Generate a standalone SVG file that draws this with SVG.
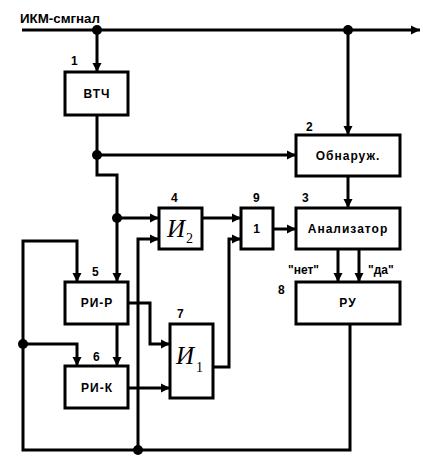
<svg xmlns="http://www.w3.org/2000/svg" width="423" height="464" viewBox="0 0 423 464">
<style>
.box{fill:#fff;stroke:#000;stroke-width:3}
.ln{fill:none;stroke:#000;stroke-width:3}
.t{font-family:"Liberation Sans",Arial,sans-serif;font-weight:bold;font-size:12px;letter-spacing:1px;text-anchor:middle}
.n{font-family:"Liberation Sans",Arial,sans-serif;font-weight:bold;font-size:12px}
.i{font-family:"Liberation Serif","Times New Roman",serif;font-style:italic;font-size:25px}
.s{font-family:"Liberation Serif","Times New Roman",serif;font-size:14px}
</style>
<defs>
<marker id="a" markerUnits="userSpaceOnUse" markerWidth="12" markerHeight="12" viewBox="0 0 12 12" refX="10" refY="6" orient="auto">
<path d="M1,1.5 L10,6 L1,10.5 Z" fill="#000"/>
</marker>
</defs>
<rect width="423" height="464" fill="#fff"/>
<g id="connectors">
<path class="ln" d="M22,30 H420" marker-end="url(#a)"/>
<path class="ln" d="M97,30 V72" marker-end="url(#a)"/>
<path class="ln" d="M348,30 V135" marker-end="url(#a)"/>
<path class="ln" d="M97,115 V155 H296" marker-end="url(#a)"/>
<path class="ln" d="M97,155 V175 H117 V282" marker-end="url(#a)"/>
<path class="ln" d="M117,218 H159" marker-end="url(#a)"/>
<path class="ln" d="M138,450 V239 H159" marker-end="url(#a)"/>
<path class="ln" d="M202,218 H241" marker-end="url(#a)"/>
<path class="ln" d="M273,229 H296" marker-end="url(#a)"/>
<path class="ln" d="M348,176 V208" marker-end="url(#a)"/>
<path class="ln" d="M338,249 V282" marker-end="url(#a)"/>
<path class="ln" d="M359,249 V282" marker-end="url(#a)"/>
<path class="ln" d="M350,324 V450 H23 V241 H77 V282" marker-end="url(#a)"/>
<path class="ln" d="M23,344 H77 V366" marker-end="url(#a)"/>
<path class="ln" d="M128,303 H150 V344 H170" marker-end="url(#a)"/>
<path class="ln" d="M117,324 V366" marker-end="url(#a)"/>
<path class="ln" d="M128,388 H170" marker-end="url(#a)"/>
<path class="ln" d="M213,367 H229 V239 H241" marker-end="url(#a)"/>
<circle cx="97" cy="30" r="5"/>
<circle cx="348" cy="30" r="5"/>
<circle cx="97" cy="155" r="5"/>
<circle cx="117" cy="218" r="5"/>
<circle cx="23" cy="344" r="5"/>
<circle cx="138" cy="450" r="5"/>
</g>
<text class="n" x="20" y="23" textLength="80" lengthAdjust="spacingAndGlyphs">ИКМ-смгнал</text>
<g id="n1">
<rect class="box" x="65" y="72" width="63" height="43"/>
<text class="t" x="97" y="98">ВТЧ</text>
<text class="n" x="71" y="65">1</text>
</g>
<g id="n2">
<rect class="box" x="296" y="135" width="104" height="41"/>
<text class="t" x="348" y="160">Обнаруж.</text>
<text class="n" x="306" y="131">2</text>
</g>
<g id="n4">
<rect class="box" x="159" y="208" width="43" height="41"/>
<text class="i" x="167" y="237">И</text>
<text class="s" x="186" y="243">2</text>
<text class="n" x="171" y="202">4</text>
</g>
<g id="n9">
<rect class="box" x="241" y="208" width="32" height="41"/>
<text class="t" x="257" y="233">1</text>
<text class="n" x="253" y="202">9</text>
</g>
<g id="n3">
<rect class="box" x="296" y="208" width="104" height="41"/>
<text class="t" x="348" y="233">Анализатор</text>
<text class="n" x="302" y="202">3</text>
</g>
<text class="n" x="288" y="274">"нет"</text>
<text class="n" x="368" y="274">"да"</text>
<g id="n8">
<rect class="box" x="296" y="282" width="104" height="42"/>
<text class="t" x="348" y="307">РУ</text>
<text class="n" x="278" y="294">8</text>
</g>
<g id="n5">
<rect class="box" x="65" y="282" width="63" height="42"/>
<text class="t" x="97" y="307">РИ-Р</text>
<text class="n" x="92" y="276">5</text>
</g>
<g id="n6">
<rect class="box" x="65" y="366" width="63" height="42"/>
<text class="t" x="97" y="392">РИ-К</text>
<text class="n" x="93" y="361">6</text>
</g>
<g id="n7">
<rect class="box" x="170" y="324" width="43" height="74"/>
<text class="i" x="176" y="364">И</text>
<text class="s" x="196" y="372">1</text>
<text class="n" x="177" y="318">7</text>
</g>
</svg>
